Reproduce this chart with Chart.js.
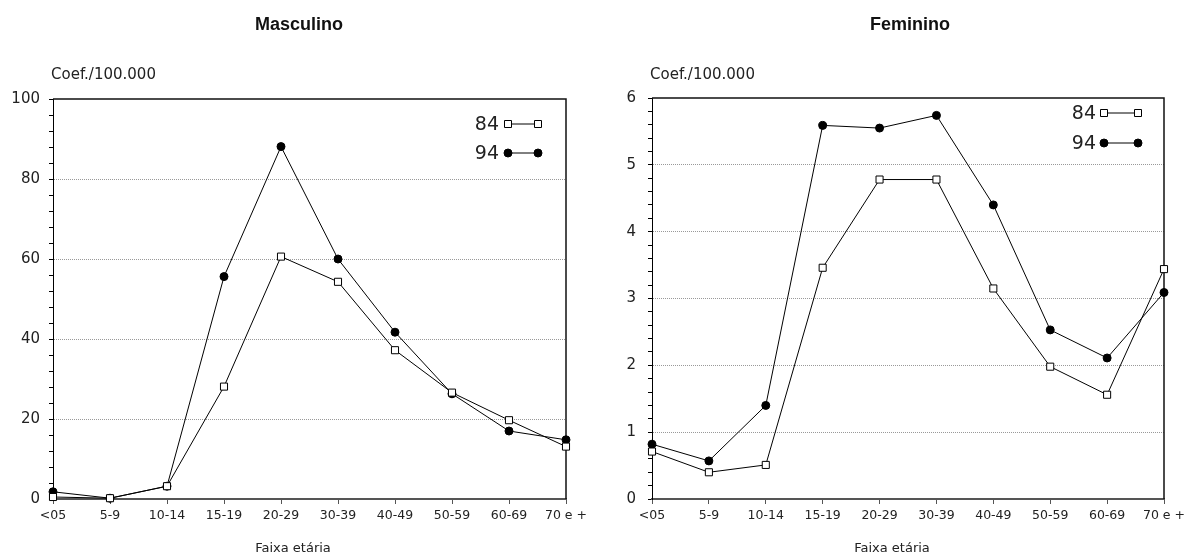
<!DOCTYPE html>
<html>
<head>
<meta charset="utf-8">
<script src="https://cdn.jsdelivr.net/npm/chart.js@4.4.1/dist/chart.umd.min.js"></script>
<style>
    html, body { margin: 0; padding: 0; background: #fff; }
    #wrap { position: relative; width: 1185px; height: 560px; }
    .box { position: absolute; top: 0; height: 560px; }
</style>
</head>
<body>
<div id="wrap">
    <div class="box" style="left:0;width:590px"><canvas id="chartMasc"></canvas></div>
    <div class="box" style="left:590px;width:595px"><canvas id="chartFem"></canvas></div>
</div>
<script>
// Age groups and rates per 100.000
const ageGroups = ['<05', '5-9', '10-14', '15-19', '20-29', '30-39', '40-49', '50-59', '60-69', '70 e +'];
const seriesLabels = ['84', '94'];

const masc84 = [0.5, 0.2, 3.2, 28.1, 60.6, 54.3, 37.2, 26.6, 19.7, 13.1];
const masc94 = [1.8, 0.2, 3.2, 55.6, 88.1, 60.0, 41.7, 26.3, 17.0, 14.8];

const fem84 = [0.71, 0.40, 0.51, 3.46, 4.78, 4.78, 3.15, 1.98, 1.56, 3.44];
const fem94 = [0.82, 0.57, 1.40, 5.59, 5.55, 5.74, 4.40, 2.53, 2.11, 3.09];

const FONT = "'DejaVu Sans', sans-serif";
const TEXT = '#222';

// titles, axis captions, box border and the line-style legend
const decorPlugin = {
    id: 'decor',
    beforeDatasetsDraw(chart) {
        const { ctx, chartArea: a } = chart;
        ctx.save();
        ctx.strokeStyle = '#111';
        ctx.lineWidth = 1.5;
        ctx.beginPath();
        ctx.moveTo(a.left, a.top);
        ctx.lineTo(a.right, a.top);
        ctx.lineTo(a.right, a.bottom);
        ctx.stroke();
        ctx.restore();
    },
    afterDraw(chart, args, o) {
        const { ctx, chartArea: a } = chart;
        ctx.save();
        ctx.fillStyle = '#111';
        ctx.textBaseline = 'middle';
        ctx.textAlign = 'center';
        ctx.font = "bold 18px 'Liberation Sans', sans-serif";
        ctx.fillText(o.title, o.titleX, 25);

        ctx.fillStyle = TEXT;
        ctx.font = '15px ' + FONT;
        ctx.textAlign = 'left';
        ctx.fillText('Coef./100.000', o.unitX, 75);

        ctx.font = '13px ' + FONT;
        ctx.textAlign = 'center';
        ctx.fillText('Faixa etária', o.xTitleX, 549);

        // legend
        chart.data.datasets.forEach((ds, i) => {
            const y = a.top + o.legendY[i];
            const x1 = a.right + o.legendLine[0];
            const x2 = a.right + o.legendLine[1];
            ctx.fillStyle = TEXT;
            ctx.font = '19px ' + FONT;
            ctx.textAlign = 'right';
            ctx.fillText(ds.label, a.right + o.legendText, y + 1);
            ctx.strokeStyle = '#000';
            ctx.lineWidth = 1;
            ctx.beginPath();
            ctx.moveTo(x1, y);
            ctx.lineTo(x2, y);
            ctx.stroke();
            [x1, x2].forEach(x => {
                ctx.beginPath();
                if (ds.pointStyle === 'rect') {
                    ctx.rect(x - 3.5, y - 3.5, 7, 7);
                } else {
                    ctx.arc(x, y, 4, 0, Math.PI * 2);
                }
                ctx.fillStyle = ds.pointBackgroundColor;
                ctx.fill();
                ctx.stroke();
            });
        });
        ctx.restore();
    }
};

function makeDatasets(d84, d94) {
    return [
        {
            label: seriesLabels[0], data: d84,
            borderColor: '#000', borderWidth: 1, tension: 0,
            pointStyle: 'rect', pointRadius: 5, pointHoverRadius: 5,
            pointBackgroundColor: '#fff', pointBorderColor: '#000', pointBorderWidth: 1,
            clip: false
        },
        {
            label: seriesLabels[1], data: d94,
            borderColor: '#000', borderWidth: 1, tension: 0,
            pointStyle: 'circle', pointRadius: 4, pointHoverRadius: 4,
            pointBackgroundColor: '#000', pointBorderColor: '#000', pointBorderWidth: 1,
            clip: false
        }
    ];
}

function isMajor(v, step) {
    return Math.abs(v / step - Math.round(v / step)) < 1e-6;
}

function renderChart(id, d84, d94, cfg) {
    return new Chart(document.getElementById(id), {
        type: 'line',
        data: { labels: ageGroups, datasets: makeDatasets(d84, d94) },
        plugins: [decorPlugin],
        options: {
            responsive: true,
            maintainAspectRatio: false,
            animation: false,
            layout: { padding: { left: 0, right: cfg.padRight, top: cfg.padTop, bottom: 0 } },
            plugins: {
                legend: { display: false },
                tooltip: { enabled: false },
                decor: cfg.decor
            },
            scales: {
                x: {
                    offset: false,
                    grid: { drawOnChartArea: false, tickLength: 5, tickColor: '#555' },
                    border: { color: '#555', width: 2 },
                    ticks: { font: { family: FONT, size: 12.5 }, color: TEXT, padding: 4, maxRotation: 0, autoSkip: false },
                    afterFit: s => { s.height = 61; s.paddingRight = 0; s.paddingLeft = 0; }
                },
                y: {
                    min: 0, max: cfg.max,
                    grid: {
                        color: c => {
                            const v = c.tick ? c.tick.value : 0;
                            return isMajor(v, cfg.major) && v > 0 && v < cfg.max ? '#999' : 'rgba(0,0,0,0)';
                        },
                        tickColor: '#000', tickLength: 4, lineWidth: 1
                    },
                    border: { color: '#000', width: 1, dash: [1, 1] },
                    ticks: {
                        stepSize: cfg.minor, autoSkip: false,
                        font: { family: FONT, size: 15 }, color: TEXT, padding: cfg.tickPad,
                        callback: v => isMajor(v, cfg.major) ? Math.round(v) : ''
                    },
                    afterFit: s => { s.width = cfg.axisWidth; }
                }
            }
        }
    });
}

renderChart('chartMasc', masc84, masc94, {
    max: 100, major: 20, minor: 4, axisWidth: 53, padRight: 24, padTop: 99, tickPad: 9,
    decor: { title: 'Masculino', titleX: 299, unitX: 51, xTitleX: 293,
             legendY: [25, 54], legendText: -67, legendLine: [-58, -28] }
});

renderChart('chartFem', fem84, fem94, {
    max: 6, major: 1, minor: 0.2, axisWidth: 62, padRight: 21, padTop: 98, tickPad: 12,
    decor: { title: 'Feminino', titleX: 320, unitX: 60, xTitleX: 302,
             legendY: [15, 45], legendText: -68, legendLine: [-60, -26] }
});
</script>
</body>
</html>
